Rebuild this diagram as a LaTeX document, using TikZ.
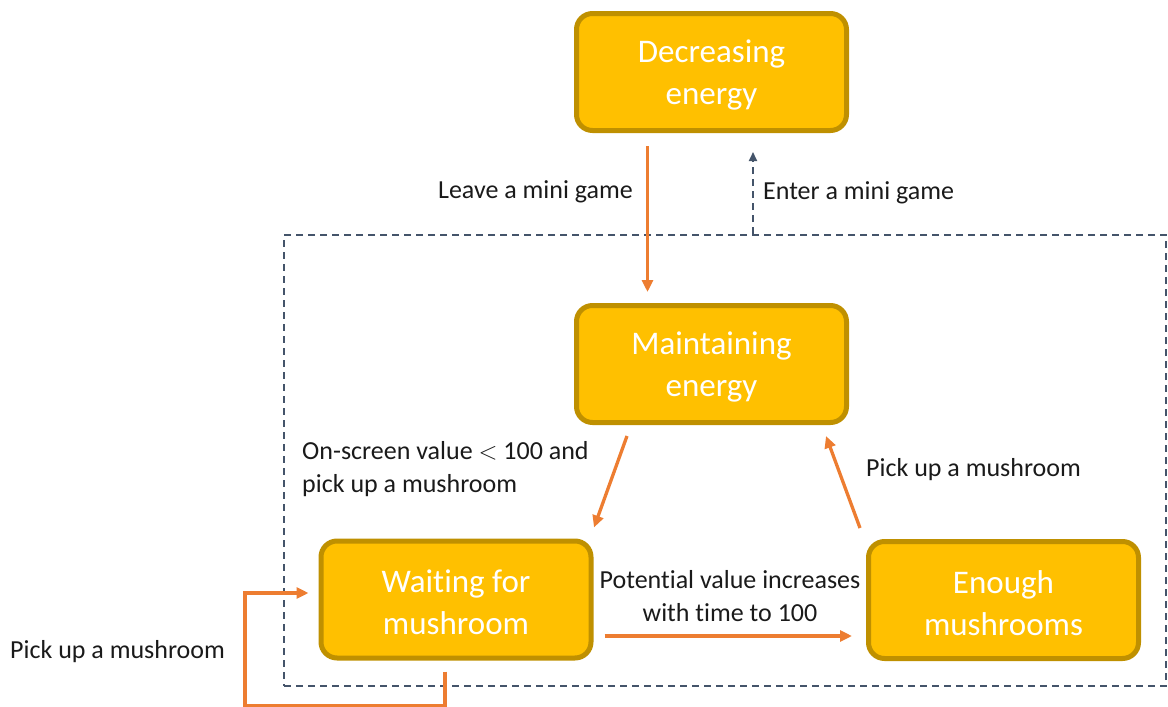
\documentclass[tikz,border=0pt]{standalone}
\usepackage{fontspec}
\setmainfont{Carlito}[Ligatures=NoCommon]
\usetikzlibrary{arrows.meta,calc}
\definecolor{boxfill}{HTML}{FFC000}
\definecolor{boxline}{HTML}{BF9000}
\definecolor{flow}{HTML}{ED7D31}
\definecolor{slate}{HTML}{44546A}
\definecolor{ink}{HTML}{1A1A1A}
\begin{document}
\begin{tikzpicture}[x=1pt,y=-1pt,
  state/.style={draw=boxline,fill=boxfill,line width=5pt,rounded corners=16pt,
    minimum width=270pt,minimum height=117pt},
  boxtext/.style={align=center,text=white,inner sep=0pt,yshift=-3pt,
    font=\fontsize{33}{42}\selectfont},
  lbl/.style={text=ink,font=\fontsize{26}{33}\selectfont,inner sep=0pt},
  flowarrow/.style={draw=flow,line width=3.3pt,-{Triangle[length=12pt,width=11pt]}},
  zonebox/.style={draw=slate,line width=1.8pt,dash pattern=on 7pt off 5pt}]
\useasboundingbox (0,0) rectangle (1168,707);

% mini game zone
\node[zonebox,minimum width=882pt,minimum height=451pt,inner sep=0pt] (zone) at (725,460.5) {};

% states
\node[state,label={[name=dectx,boxtext]center:Decreasing\\energy}] (dec) at (711.5,72) {};
\node[state,label={[name=maintx,boxtext]center:Maintaining\\energy}] (main) at (711.5,364) {};
\node[state,label={[name=waittx,boxtext]center:Waiting for\\mushroom}] (wait) at (456,599.5) {};
\node[state,label={[name=enoughtx,boxtext]center:Enough\\mushrooms}] (enough) at (1003.5,600) {};

% transitions
\draw[flowarrow] ($(dec.south)+(-64,13)$) -- ($(main.north)+(-64,-11)$);
\node[lbl,anchor=east] (leave) at (633,192) {Leave a mini game};

\draw[draw=slate,line width=1.8pt,dash pattern=on 7pt off 5pt,
  -{Triangle[length=9pt,width=8pt]}] (zone.north -| 753,0) -- ($(dec.south)+(41.5,19)$);
\node[lbl,anchor=west] (enter) at (763,193) {Enter a mini game};

\draw[flowarrow] ($(main.south)+(-84.5,11)$) -- ($(wait.north)+(138,-11)$);
\node[lbl,anchor=west,align=left] (cond) at (302,469) {On-screen value $<$ 100 and\\pick up a mushroom};

\draw[flowarrow] ($(enough.north)+(-143.5,-11)$) -- ($(main.south)+(114.5,11)$);
\node[lbl,anchor=west] (pickup) at (866,470) {Pick up a mushroom};

\draw[flowarrow] ($(wait.east)+(11,36.5)$) -- ($(enough.west)+(-14,36)$);
\node[lbl,align=center] (grow) at (730,596) {Potential value increases\\with time to 100};

\draw[flowarrow] ($(wait.south)+(-11,11)$) -- ++(0,34) -- ++(-200,0) |- ($(wait.west)+(-10,-6.5)$);
\node[lbl,anchor=west] (self) at (10,652) {Pick up a mushroom};
\end{tikzpicture}
\end{document}
